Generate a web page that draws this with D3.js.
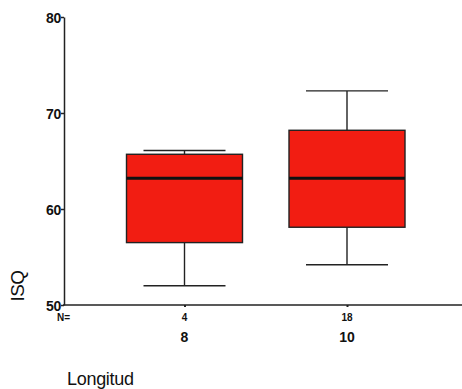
<!DOCTYPE html>
<html>
<head>
<meta charset="utf-8">
<script src="https://cdn.jsdelivr.net/npm/d3@7"></script>
<style>
  body { margin: 0; background: #fff; }
  text { font-family: "Liberation Sans", Arial, sans-serif; fill: #111; }
</style>
</head>
<body>
<svg id="chart" width="462" height="389"></svg>
<script>
// box plot data
const groups = ["8", "10"];
const counts = [4, 18];
const mins = [52.0, 54.2];
const q1s = [56.5, 58.1];
const medians = [63.2, 63.2];
const q3s = [65.7, 68.2];
const maxs = [66.1, 72.3];
const yTicks = [50, 60, 70, 80];

const svg = d3.select("#chart");

const y = d3.scaleLinear().domain([50, 80]).range([305, 17]);
const x = d3.scalePoint().domain(groups).range([184.5, 347]);

const boxW = 116;
const capW = 82;

// y axis
const yAxis = svg.append("g")
  .attr("transform", "translate(64,0)")
  .call(d3.axisLeft(y).tickValues(yTicks).tickSize(3).tickSizeOuter(0));
yAxis.select(".domain").attr("stroke", "#222").attr("stroke-width", 1.5);
yAxis.selectAll(".tick line").attr("stroke", "#222").attr("stroke-width", 1.5);
yAxis.selectAll(".tick text")
  .attr("x", -3)
  .attr("dy", "0.36em")
  .style("font-size", "14px")
  .style("font-weight", "bold")
  .style("letter-spacing", "-0.3px");

// x axis line
svg.append("line")
  .attr("x1", 63).attr("x2", 462)
  .attr("y1", y(50)).attr("y2", y(50))
  .attr("stroke", "#222").attr("stroke-width", 1.5);

const xAxis = svg.append("g")
  .attr("transform", `translate(0,${y(50)})`)
  .call(d3.axisBottom(x).tickSize(2).tickFormat(""));
xAxis.select(".domain").remove();
xAxis.selectAll(".tick line").attr("stroke", "#222").attr("stroke-width", 2);

// boxes
const data = groups.map((g, i) => ({
  g, n: counts[i], min: mins[i], q1: q1s[i], med: medians[i], q3: q3s[i], max: maxs[i]
}));

const box = svg.selectAll(".box").data(data).enter().append("g").attr("class", "box");

box.append("line")
  .attr("x1", d => x(d.g)).attr("x2", d => x(d.g))
  .attr("y1", d => y(d.max)).attr("y2", d => y(d.min))
  .attr("stroke", "#222").attr("stroke-width", 1.4);

box.append("line")
  .attr("x1", d => x(d.g) - capW / 2).attr("x2", d => x(d.g) + capW / 2)
  .attr("y1", d => y(d.max)).attr("y2", d => y(d.max))
  .attr("stroke", "#222").attr("stroke-width", 1.4);

box.append("line")
  .attr("x1", d => x(d.g) - capW / 2).attr("x2", d => x(d.g) + capW / 2)
  .attr("y1", d => y(d.min)).attr("y2", d => y(d.min))
  .attr("stroke", "#222").attr("stroke-width", 1.4);

box.append("rect")
  .attr("x", d => x(d.g) - boxW / 2)
  .attr("width", boxW)
  .attr("y", d => y(d.q3))
  .attr("height", d => y(d.q1) - y(d.q3))
  .attr("fill", "#f21d12")
  .attr("stroke", "#222").attr("stroke-width", 1.4);

box.append("line")
  .attr("x1", d => x(d.g) - boxW / 2).attr("x2", d => x(d.g) + boxW / 2)
  .attr("y1", d => y(d.med)).attr("y2", d => y(d.med))
  .attr("stroke", "#111").attr("stroke-width", 3);

// N= counts and group labels
svg.append("text")
  .attr("x", 57).attr("y", 321)
  .style("font-size", "10px").style("font-weight", "bold")
  .text("N=");

box.append("text")
  .attr("x", d => x(d.g)).attr("y", 321)
  .attr("text-anchor", "middle")
  .style("font-size", "10px").style("font-weight", "bold")
  .text(d => d.n);

box.append("text")
  .attr("x", d => x(d.g)).attr("y", 342)
  .attr("text-anchor", "middle")
  .style("font-size", "14px").style("font-weight", "bold")
  .text(d => d.g);

// axis titles
svg.append("text")
  .attr("transform", "translate(24,286) rotate(-90)")
  .attr("text-anchor", "middle")
  .style("font-size", "19px")
  .style("letter-spacing", "-0.5px")
  .text("ISQ");

svg.append("text")
  .attr("x", 67).attr("y", 385)
  .style("font-size", "18px")
  .style("letter-spacing", "-0.3px")
  .text("Longitud");
</script>
</body>
</html>
